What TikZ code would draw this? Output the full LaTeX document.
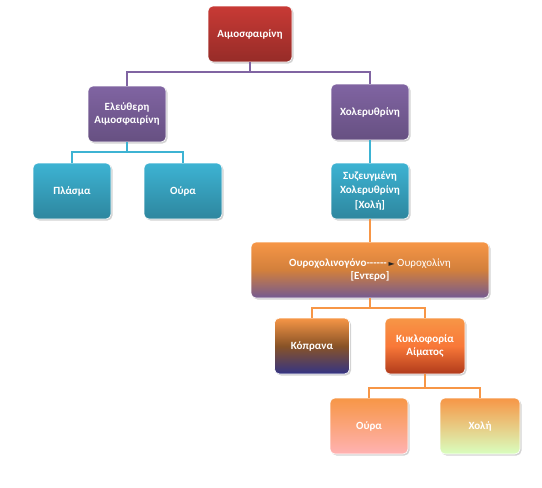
\documentclass[tikz,border=0pt]{standalone}
\usepackage{fontspec}
\setmainfont{Carlito}
\newfontfamily\symfont{DejaVu Sans}
\usetikzlibrary{positioning,calc,shadows}

\definecolor{hbred}{HTML}{C83A35}
\definecolor{hbpurple}{HTML}{8064A2}
\definecolor{hbaqua}{HTML}{3DB3D3}
\definecolor{hborange}{HTML}{F79646}

\begin{document}
\begin{tikzpicture}[
    x=1pt, y=-1pt,
    box/.style={draw=white, line width=0.6pt, rounded corners=5pt, align=center,
        minimum width=78pt, minimum height=56pt, text=white, font=\fontsize{11}{13.5}\selectfont\bfseries,
        drop shadow={shadow xshift=1.5pt, shadow yshift=-1.5pt, opacity=0.35}},
    redbox/.style={box, top color=hbred, bottom color=hbred!75!black},
    purplebox/.style={box, top color=hbpurple, bottom color=hbpurple!80!black},
    aquabox/.style={box, top color=hbaqua, bottom color=hbaqua!75!black},
    conn/.style={line width=2.6pt},
]
\useasboundingbox (0,0) rectangle (542,488);

\node[redbox, minimum width=84pt] (haem) at (250,34) {Αιμοσφαιρίνη};
\node[purplebox] (free) at (127,114) {Ελεύθερη\\Αιμοσφαιρίνη};
\node[purplebox] (bili) at (370,112) {Χολερυθρίνη};
\node[aquabox] (plasma) at (72,191) {Πλάσμα};
\node[aquabox] (urine) at (183,191) {Ούρα};
\node[aquabox] (conj) at (370,191) {Συζευγμένη\\Χολερυθρίνη\\[2pt]{[Χολή]}};
\node[box, minimum width=238pt, top color=hborange, bottom color=hbpurple!90!black, middle color=hborange!85!black] (urob) at (370,270)
    {Ουροχολινογόνο-{}-{}-{}-{}-{}-\,{\symfont\color{black!85}\fontsize{8}{8}\selectfont ►} {\mdseries Ουροχολίνη}\\{[Εντερο]}};
\node[box, minimum width=75pt, top color=hborange, bottom color=blue!40!black!80!white, middle color=hborange!55!black] (feces) at (312,346) {Κόπρανα};
\node[box, minimum width=80pt, top color=hborange, bottom color=hborange!55!red!70!black, middle color=hborange!80!red] (blood) at (425,346) {Κυκλοφορία\\Αίματος};
\node[box, top color=hborange, bottom color=red!30!white] (urine2) at (369,426) {Ούρα};
\node[box, minimum width=80pt, top color=hborange, bottom color=yellow!40!green!25!white] (bile) at (480,426) {Χολή};

% connectors
\coordinate (j1) at (250,72);
\coordinate (j2) at (127,152);
\coordinate (j3) at (370,308);
\coordinate (j4) at (425,388);
\draw[conn, hbpurple] (haem.south) -- (j1) -| (free.north);
\draw[conn, hbpurple] (j1) -| (bili.north);
\draw[conn, hbaqua] (free.south) -- (j2) -| (plasma.north);
\draw[conn, hbaqua] (j2) -| (urine.north);
\draw[conn, hbaqua] (bili) -- (conj);
\draw[conn, hborange] (conj) -- (urob);
\draw[conn, hborange] (urob.south) -- (j3) -| (feces.north);
\draw[conn, hborange] (j3) -| (blood.north);
\draw[conn, hborange] (blood.south) -- (j4) -| (urine2.north);
\draw[conn, hborange] (j4) -| (bile.north);
\end{tikzpicture}
\end{document}
